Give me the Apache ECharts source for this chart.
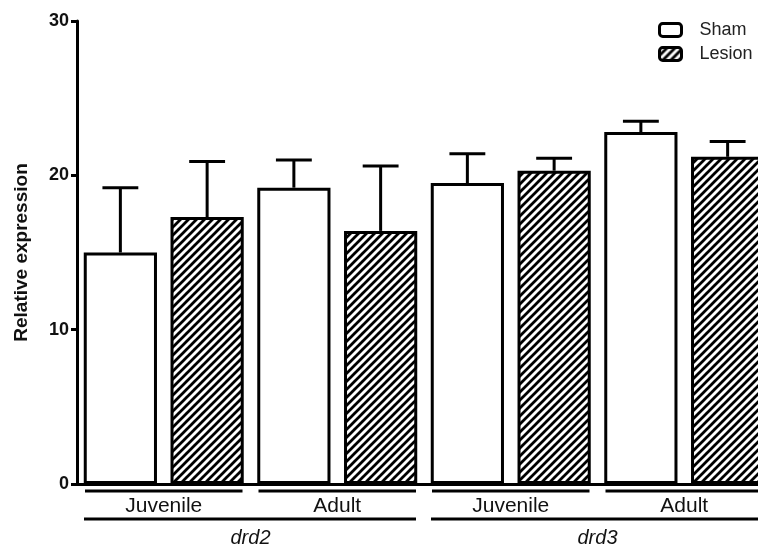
<!DOCTYPE html>
<html><head><meta charset="utf-8">
<script src="https://cdn.jsdelivr.net/npm/echarts@6/dist/echarts.min.js"></script>
<style>html,body{margin:0;padding:0;background:#fff}#c{width:758px;height:548px}</style>
</head><body><div id="c"></div>
<script>
// ---- data ----
const groups = ['Juvenile', 'Adult', 'Juvenile', 'Adult'];
const genes = ['drd2', 'drd3'];
const geneGroups = [[0, 1], [2, 3]];
const seriesNames = ['Sham', 'Lesion'];
const shamMean = [15.0, 19.2, 19.5, 22.8];
const shamUpper = [19.2, 21.0, 21.4, 23.5];
const lesionMean = [17.3, 16.4, 20.3, 21.2];
const lesionUpper = [20.9, 20.6, 21.1, 22.2];
const yTicks = [0, 10, 20, 30];

// ---- style ----
const BW = 0.422, GAP = 0.185;
const FONT = 'Arial, "Liberation Sans", Helvetica, sans-serif';

function hatch() {
  const s = 8, c = document.createElement('canvas');
  c.width = s; c.height = s;
  const g = c.getContext('2d');
  g.fillStyle = '#fff'; g.fillRect(0, 0, s, s);
  g.strokeStyle = '#000'; g.lineWidth = 2.8;
  g.beginPath();
  g.moveTo(-2, s + 2); g.lineTo(s + 2, -2);
  g.moveTo(-2, 2); g.lineTo(2, -2);
  g.moveTo(s - 2, s + 2); g.lineTo(s + 2, s - 2);
  g.stroke();
  return c;
}
const hatchFill = { image: hatch(), repeat: 'repeat' };

const errData = [];
groups.forEach((g, i) => {
  errData.push([i, shamMean[i], shamUpper[i], 0]);
  errData.push([i, lesionMean[i], lesionUpper[i], 1]);
});

function renderErr(params, api) {
  const cat = api.value(0), mean = api.value(1), hi = api.value(2), s = api.value(3);
  const band = api.size([1, 0])[0];
  const bw = band * BW;
  const off = (bw + bw * GAP) / 2 * (s === 0 ? -1 : 1);
  const p0 = api.coord([cat, mean]);
  const p1 = api.coord([cat, hi]);
  const x = p0[0] + off, half = bw * 0.245;
  return {
    type: 'group', children: [
      { type: 'line', shape: { x1: x, y1: p0[1], x2: x, y2: p1[1] }, style: { stroke: '#000', lineWidth: 3 } },
      { type: 'line', shape: { x1: x - half, y1: p1[1], x2: x + half, y2: p1[1] }, style: { stroke: '#000', lineWidth: 3 } }
    ]
  };
}

const chart = echarts.init(document.getElementById('c'), null, { renderer: 'canvas' });
const option = {
  animation: false,
  backgroundColor: '#fff',
  grid: { left: 77, top: 21, width: 694, height: 463, containLabel: false, outerBoundsMode: 'none' },
  legend: {
    orient: 'vertical', left: 658, top: 21, padding: 0,
    itemWidth: 22, itemHeight: 13, itemGap: 6,
    icon: 'roundRect',
    textStyle: { fontFamily: FONT, fontSize: 18, color: '#222', padding: [0, 0, 0, 13] },
    data: [
      { name: seriesNames[0], itemStyle: { color: '#fff', borderColor: '#000', borderWidth: 3 } },
      { name: seriesNames[1], itemStyle: { color: hatchFill, borderColor: '#000', borderWidth: 3 } }
    ]
  },
  xAxis: {
    type: 'category', data: groups,
    axisLine: { show: true, lineStyle: { color: '#000', width: 3 } },
    axisTick: { show: false },
    axisLabel: { show: true, margin: 12, fontFamily: FONT, fontSize: 21, color: '#111', lineHeight: 20 },
    splitLine: { show: false }
  },
  yAxis: {
    type: 'value', min: yTicks[0], max: yTicks[yTicks.length - 1], interval: 10,
    name: 'Relative expression', nameLocation: 'middle', nameGap: 46,
    nameTextStyle: { fontFamily: FONT, fontSize: 19, fontWeight: 'bold', color: '#111' },
    axisLine: { show: true, lineStyle: { color: '#000', width: 3 } },
    axisTick: { show: true, length: 6, lineStyle: { color: '#000', width: 3 } },
    axisLabel: { margin: 8, fontFamily: FONT, fontSize: 18, fontWeight: 'bold', color: '#111' },
    splitLine: { show: false }
  },
  series: [
    { name: seriesNames[0], type: 'bar', data: shamMean, barWidth: (BW * 100) + '%', barGap: (GAP * 100) + '%',
      itemStyle: { color: '#fff', borderColor: '#000', borderWidth: 3 } },
    { name: seriesNames[1], type: 'bar', data: lesionMean, barWidth: (BW * 100) + '%', barGap: (GAP * 100) + '%',
      itemStyle: { color: hatchFill, borderColor: '#000', borderWidth: 3 } },
    { type: 'custom', data: errData, renderItem: renderErr, encode: { x: 0, y: [1, 2] }, z: 5, silent: true }
  ]
};
chart.setOption(option);

// bracket lines & gene labels positioned from the category axis
const base = chart.convertToPixel({ yAxisIndex: 0 }, 0);
const c0 = chart.convertToPixel({ xAxisIndex: 0 }, 0);
const c1 = chart.convertToPixel({ xAxisIndex: 0 }, 1);
const band = c1 - c0;
const els = [];
groups.forEach((g, i) => {
  const cx = chart.convertToPixel({ xAxisIndex: 0 }, i);
  els.push({ type: 'line', shape: { x1: cx - band / 2 + 8, y1: base + 7, x2: cx + band / 2 - 8, y2: base + 7 }, style: { stroke: '#000', lineWidth: 3 } });
});
genes.forEach((gname, j) => {
  const a = chart.convertToPixel({ xAxisIndex: 0 }, geneGroups[j][0]);
  const b = chart.convertToPixel({ xAxisIndex: 0 }, geneGroups[j][1]);
  const x1 = a - band / 2 + 7, x2 = b + band / 2 - 8;
  els.push({ type: 'line', shape: { x1: x1, y1: base + 35, x2: x2, y2: base + 35 }, style: { stroke: '#000', lineWidth: 3 } });
  els.push({ type: 'text', style: { text: gname, x: (a + b) / 2, y: base + 54, align: 'center', verticalAlign: 'middle', textAlign: 'center', textVerticalAlign: 'middle', font: 'italic 20px ' + FONT, fill: '#111' } });
});
chart.setOption({ graphic: { elements: els } });
</script>
</body></html>
